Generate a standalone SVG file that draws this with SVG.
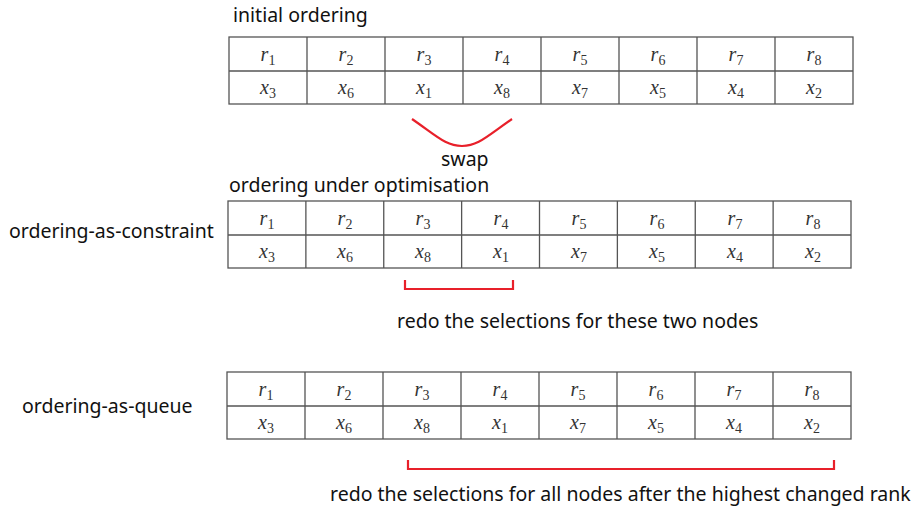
<svg xmlns="http://www.w3.org/2000/svg" width="912" height="511" viewBox="0 0 912 511">
<style>
.lbl{font-family:"Noto Sans","Open Sans",sans-serif;font-size:19.5px;fill:#111}
.grid{fill:none;stroke:#555;stroke-width:1.3}
.m{font-family:"Liberation Serif","DejaVu Serif",serif;font-size:20px;fill:#333;text-anchor:middle}
.v{font-style:italic}
.s{font-size:14px}
.red{fill:none;stroke:#e8202a;stroke-width:2.2}
</style>
<rect width="912" height="511" fill="#fff"/>
<defs>
<g id="gridshape">
<rect class="grid" x="0" y="0" width="624" height="67"/>
<path class="grid" d="M0,34H624M78,0V67M156,0V67M234,0V67M312,0V67M390,0V67M468,0V67M546,0V67"/>
</g>
</defs>

<g id="title-initial"><text class="lbl" x="233" y="22">initial ordering</text></g>

<g id="table1" transform="translate(229,37)">
<use href="#gridshape"/>
<g class="m">
<text x="39" y="24"><tspan class="v">r</tspan><tspan class="s" dy="4">1</tspan></text>
<text x="117" y="24"><tspan class="v">r</tspan><tspan class="s" dy="4">2</tspan></text>
<text x="195" y="24"><tspan class="v">r</tspan><tspan class="s" dy="4">3</tspan></text>
<text x="273" y="24"><tspan class="v">r</tspan><tspan class="s" dy="4">4</tspan></text>
<text x="351" y="24"><tspan class="v">r</tspan><tspan class="s" dy="4">5</tspan></text>
<text x="429" y="24"><tspan class="v">r</tspan><tspan class="s" dy="4">6</tspan></text>
<text x="507" y="24"><tspan class="v">r</tspan><tspan class="s" dy="4">7</tspan></text>
<text x="585" y="24"><tspan class="v">r</tspan><tspan class="s" dy="4">8</tspan></text>
<text x="39" y="57"><tspan class="v">x</tspan><tspan class="s" dy="4">3</tspan></text>
<text x="117" y="57"><tspan class="v">x</tspan><tspan class="s" dy="4">6</tspan></text>
<text x="195" y="57"><tspan class="v">x</tspan><tspan class="s" dy="4">1</tspan></text>
<text x="273" y="57"><tspan class="v">x</tspan><tspan class="s" dy="4">8</tspan></text>
<text x="351" y="57"><tspan class="v">x</tspan><tspan class="s" dy="4">7</tspan></text>
<text x="429" y="57"><tspan class="v">x</tspan><tspan class="s" dy="4">5</tspan></text>
<text x="507" y="57"><tspan class="v">x</tspan><tspan class="s" dy="4">4</tspan></text>
<text x="585" y="57"><tspan class="v">x</tspan><tspan class="s" dy="4">2</tspan></text>
</g>
</g>

<g id="swap">
<path class="red" d="M412,119 C438,137 446,146 462,146 C478,146 486,137 512,119"/>
<text class="lbl" x="441" y="166">swap</text>
</g>

<g id="title-opt"><text class="lbl" x="229" y="192">ordering under optimisation</text></g>
<g id="label-constraint"><text class="lbl" x="9" y="238">ordering-as-constraint</text></g>

<g id="table2" transform="translate(228,201)">
<use href="#gridshape" transform="scale(0.9984,1)"/>
<g class="m">
<text x="39" y="24"><tspan class="v">r</tspan><tspan class="s" dy="4">1</tspan></text>
<text x="117" y="24"><tspan class="v">r</tspan><tspan class="s" dy="4">2</tspan></text>
<text x="195" y="24"><tspan class="v">r</tspan><tspan class="s" dy="4">3</tspan></text>
<text x="273" y="24"><tspan class="v">r</tspan><tspan class="s" dy="4">4</tspan></text>
<text x="351" y="24"><tspan class="v">r</tspan><tspan class="s" dy="4">5</tspan></text>
<text x="429" y="24"><tspan class="v">r</tspan><tspan class="s" dy="4">6</tspan></text>
<text x="507" y="24"><tspan class="v">r</tspan><tspan class="s" dy="4">7</tspan></text>
<text x="585" y="24"><tspan class="v">r</tspan><tspan class="s" dy="4">8</tspan></text>
<text x="39" y="57"><tspan class="v">x</tspan><tspan class="s" dy="4">3</tspan></text>
<text x="117" y="57"><tspan class="v">x</tspan><tspan class="s" dy="4">6</tspan></text>
<text x="195" y="57"><tspan class="v">x</tspan><tspan class="s" dy="4">8</tspan></text>
<text x="273" y="57"><tspan class="v">x</tspan><tspan class="s" dy="4">1</tspan></text>
<text x="351" y="57"><tspan class="v">x</tspan><tspan class="s" dy="4">7</tspan></text>
<text x="429" y="57"><tspan class="v">x</tspan><tspan class="s" dy="4">5</tspan></text>
<text x="507" y="57"><tspan class="v">x</tspan><tspan class="s" dy="4">4</tspan></text>
<text x="585" y="57"><tspan class="v">x</tspan><tspan class="s" dy="4">2</tspan></text>
</g>
</g>

<g id="bracket-two">
<path class="red" d="M405,280V289H513V280"/>
<text class="lbl" x="397" y="328">redo the selections for these two nodes</text>
</g>

<g id="label-queue"><text class="lbl" x="22" y="413">ordering-as-queue</text></g>

<g id="table3" transform="translate(227,372)">
<use href="#gridshape"/>
<g class="m">
<text x="39" y="24"><tspan class="v">r</tspan><tspan class="s" dy="4">1</tspan></text>
<text x="117" y="24"><tspan class="v">r</tspan><tspan class="s" dy="4">2</tspan></text>
<text x="195" y="24"><tspan class="v">r</tspan><tspan class="s" dy="4">3</tspan></text>
<text x="273" y="24"><tspan class="v">r</tspan><tspan class="s" dy="4">4</tspan></text>
<text x="351" y="24"><tspan class="v">r</tspan><tspan class="s" dy="4">5</tspan></text>
<text x="429" y="24"><tspan class="v">r</tspan><tspan class="s" dy="4">6</tspan></text>
<text x="507" y="24"><tspan class="v">r</tspan><tspan class="s" dy="4">7</tspan></text>
<text x="585" y="24"><tspan class="v">r</tspan><tspan class="s" dy="4">8</tspan></text>
<text x="39" y="57"><tspan class="v">x</tspan><tspan class="s" dy="4">3</tspan></text>
<text x="117" y="57"><tspan class="v">x</tspan><tspan class="s" dy="4">6</tspan></text>
<text x="195" y="57"><tspan class="v">x</tspan><tspan class="s" dy="4">8</tspan></text>
<text x="273" y="57"><tspan class="v">x</tspan><tspan class="s" dy="4">1</tspan></text>
<text x="351" y="57"><tspan class="v">x</tspan><tspan class="s" dy="4">7</tspan></text>
<text x="429" y="57"><tspan class="v">x</tspan><tspan class="s" dy="4">5</tspan></text>
<text x="507" y="57"><tspan class="v">x</tspan><tspan class="s" dy="4">4</tspan></text>
<text x="585" y="57"><tspan class="v">x</tspan><tspan class="s" dy="4">2</tspan></text>
</g>
</g>

<g id="bracket-all">
<path class="red" d="M408,460V469H834V460"/>
<text class="lbl" x="330" y="501">redo the selections for all nodes after the highest changed rank</text>
</g>
</svg>
